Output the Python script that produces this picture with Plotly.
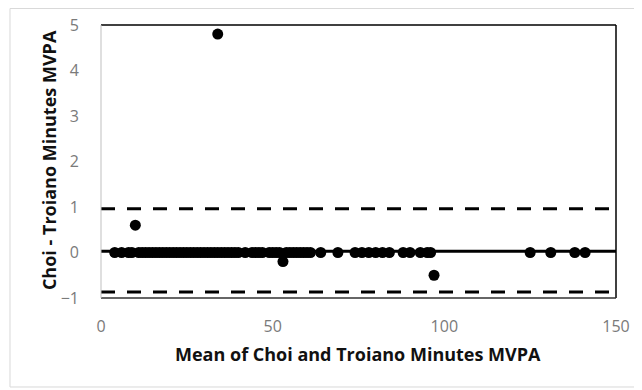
import plotly.graph_objects as go

# Bland-Altman data
zero_x = [4, 6, 8, 9, 11, 12, 13, 14, 15, 16, 17, 18, 19, 20, 21, 22, 23, 24, 25,
          26, 27, 28, 29, 30, 31, 32, 33, 34, 35, 36, 37, 38, 39, 40, 42, 44, 45,
          46, 47, 49, 50, 51, 52, 54, 55, 56, 57, 58, 59, 60, 61, 64, 69, 74, 76,
          78, 80, 82, 84, 88, 90, 93, 95, 96, 125, 131, 138, 141]
zero_y = [0] * len(zero_x)
other_x = [34, 10, 53, 97]
other_y = [4.8, 0.6, -0.2, -0.5]

mean_diff = 0.03
upper_loa = 0.96
lower_loa = -0.87
x_range = [0, 150]
y_range = [-1, 5]
x_ticks = [0, 50, 100, 150]
y_ticks = [-1, 0, 1, 2, 3, 4, 5]
x_title = "Mean of Choi and Troiano Minutes MVPA"
y_title = "Choi - Troiano Minutes MVPA"

xs = zero_x + other_x
ys = zero_y + other_y

fig = go.Figure()

fig.add_trace(go.Scatter(x=x_range, y=[upper_loa, upper_loa], mode="lines",
                         line=dict(color="black", width=3, dash="14px,12px"),
                         hoverinfo="skip", showlegend=False))
fig.add_trace(go.Scatter(x=x_range, y=[lower_loa, lower_loa], mode="lines",
                         line=dict(color="black", width=3, dash="14px,12px"),
                         hoverinfo="skip", showlegend=False))
fig.add_trace(go.Scatter(x=x_range, y=[mean_diff, mean_diff], mode="lines",
                         line=dict(color="black", width=3),
                         hoverinfo="skip", showlegend=False))
fig.add_trace(go.Scatter(x=xs, y=ys, mode="markers",
                         marker=dict(color="black", size=11),
                         showlegend=False))

FONT = "Open Sans, Liberation Sans, sans-serif"
tick_font = dict(family=FONT, size=16, color="#7a7a7a")
title_font = dict(family=FONT, size=18, color="#111111")

fig.update_xaxes(range=x_range, tickvals=x_ticks, showgrid=False, zeroline=False,
                 showline=False, ticks="", tickfont=tick_font, automargin=False,
                 ticklabelstandoff=17)
fig.update_yaxes(range=y_range, tickvals=y_ticks, showgrid=False, zeroline=False,
                 showline=False, ticks="", tickfont=tick_font, automargin=False,
                 ticklabelstandoff=21)

# axis titles
fig.add_annotation(text="<b>" + x_title + "</b>", xref="paper", yref="paper",
                   x=0.499, y=-0.205, xanchor="center", yanchor="middle",
                   showarrow=False, font=title_font)
fig.add_annotation(text="<b>" + y_title + "</b>", xref="paper", yref="paper",
                   x=-0.101, y=0.505, xanchor="center", yanchor="middle",
                   textangle=-90, showarrow=False, font=title_font)

# plot area border: top/right/bottom black, left gray
fig.add_shape(type="line", xref="x domain", yref="y domain", x0=0, x1=1, y0=1, y1=1,
              line=dict(color="black", width=1.5))
fig.add_shape(type="line", xref="x domain", yref="y domain", x0=1, x1=1, y0=0, y1=1,
              line=dict(color="black", width=1.5))
fig.add_shape(type="line", xref="x domain", yref="y domain", x0=0, x1=1, y0=0, y1=0,
              line=dict(color="#333333", width=1.5))
fig.add_shape(type="line", xref="x domain", yref="y domain", x0=0, x1=0, y0=0, y1=1,
              line=dict(color="#bfbfbf", width=1))
# chart area border
fig.add_shape(type="rect", xref="x domain", yref="y domain",
              x0=-0.1767, x1=1.0466, y0=-0.326, y1=1.0604,
              line=dict(color="#d9d9d9", width=1), layer="below")

# page body has an 8px margin; size/margins compensate for it
fig.update_layout(width=634, height=382,
                  margin=dict(l=93, r=26, t=17, b=92),
                  paper_bgcolor="white", plot_bgcolor="white")

fig.write_html("out.html")
